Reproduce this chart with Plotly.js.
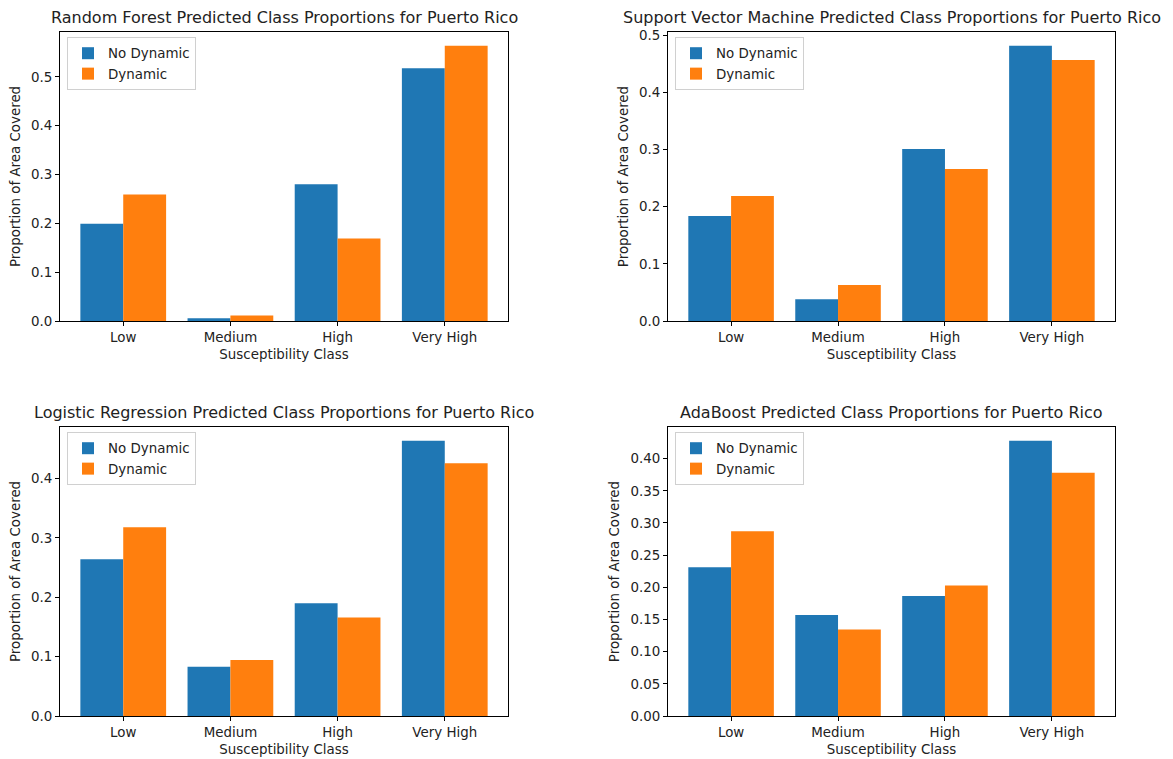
<!DOCTYPE html>
<html>
<head>
<meta charset="utf-8">
<script src="https://cdn.plot.ly/plotly-3.0.1.min.js"></script>
<style>html,body{margin:0;padding:0;background:#fff;} #chart{width:1173px;height:759px;}</style>
</head>
<body>
<div id="chart"></div>
<script>
// ---- data ----
const categories = ['Low', 'Medium', 'High', 'Very High'];
const seriesNames = ['No Dynamic', 'Dynamic'];

const rfNoDynamic  = [0.199, 0.0054, 0.280, 0.5176];
const rfDynamic    = [0.259, 0.0115, 0.169, 0.5638];
const svmNoDynamic = [0.184, 0.038, 0.301, 0.482];
const svmDynamic   = [0.219, 0.063, 0.266, 0.457];
const lrNoDynamic  = [0.2638, 0.0831, 0.190, 0.4635];
const lrDynamic    = [0.318, 0.0943, 0.1657, 0.4255];
const abNoDynamic  = [0.2311, 0.157, 0.1864, 0.4278];
const abDynamic    = [0.2873, 0.1344, 0.2028, 0.3779];

const panelTitles = [
  'Random Forest Predicted Class Proportions for Puerto Rico',
  'Support Vector Machine Predicted Class Proportions for Puerto Rico',
  'Logistic Regression Predicted Class Proportions for Puerto Rico',
  'AdaBoost Predicted Class Proportions for Puerto Rico'
];
const xTitle = 'Susceptibility Class';
const yTitle = 'Proportion of Area Covered';

// ---- styling ----
const W = 1173, H = 759;
const FONT = 'DejaVu Sans, Liberation Sans, sans-serif';
const SMALL = 13.4, BIG = 16;
const TXT = '#222';
const colors = ['#1f77b4', '#ff7f0e'];
const panelData = [
  [rfNoDynamic, rfDynamic],
  [svmNoDynamic, svmDynamic],
  [lrNoDynamic, lrDynamic],
  [abNoDynamic, abDynamic]
];
const tickStep = [0.1, 0.1, 0.1, 0.05];
const tickFmt = ['.1f', '.1f', '.1f', '.2f'];

// panel boxes in pixels: [left, right, top, bottom]
const boxes = [
  [60, 508, 32, 321],
  [668, 1115, 32, 321],
  [60, 508, 427, 716],
  [668, 1115, 427, 716]
];

const traces = [];
const layout = {
  width: W, height: H,
  margin: {l: 0, r: 0, t: 0, b: 0},
  paper_bgcolor: '#fff', plot_bgcolor: '#fff',
  font: {family: FONT, size: SMALL, color: TXT},
  barmode: 'group', bargap: 0.2, bargroupgap: 0,
  annotations: [],
  showlegend: true
};

boxes.forEach((b, i) => {
  const n = i + 1;
  const xa = n === 1 ? 'x' : 'x' + n;
  const ya = n === 1 ? 'y' : 'y' + n;
  const lg = n === 1 ? 'legend' : 'legend' + n;
  const xdom = [b[0] / W, b[1] / W];
  const ydom = [1 - b[3] / H, 1 - b[2] / H];
  const vals = panelData[i];
  const ymax = Math.max(...vals[0], ...vals[1]) * 1.05;

  vals.forEach((v, s) => {
    traces.push({
      type: 'bar', x: categories, y: v, name: seriesNames[s],
      xaxis: xa, yaxis: ya, legend: lg,
      marker: {color: colors[s], line: {width: 0}},
      hoverinfo: 'x+y+name'
    });
  });

  const axCommon = {
    showline: true, linecolor: '#000', linewidth: 1, mirror: true,
    ticks: 'outside', ticklen: 4, tickcolor: '#000', tickwidth: 1,
    showgrid: false, zeroline: false, automargin: false,
    tickfont: {family: FONT, size: SMALL, color: TXT}
  };
  layout['xaxis' + (n === 1 ? '' : n)] = Object.assign({}, axCommon, {
    domain: xdom, anchor: ya, type: 'category',
    range: [-0.59, 3.59], fixedrange: true,
    title: {text: xTitle, font: {family: FONT, size: SMALL, color: TXT}, standoff: 5}
  });
  layout['yaxis' + (n === 1 ? '' : n)] = Object.assign({}, axCommon, {
    domain: ydom, anchor: xa,
    range: [0, ymax], dtick: tickStep[i], tick0: 0, tickformat: tickFmt[i],
    title: {text: yTitle, font: {family: FONT, size: SMALL, color: TXT}, standoff: 7}
  });
  layout[lg] = {
    x: (b[0] + 7) / W, y: 1 - (b[2] + 5) / H, xanchor: 'left', yanchor: 'top',
    xref: 'paper', yref: 'paper',
    bgcolor: 'rgba(255,255,255,0.8)', bordercolor: '#d0d0d0', borderwidth: 1,
    font: {family: FONT, size: SMALL, color: TXT},
    tracegroupgap: 0, itemwidth: 30
  };
  layout.annotations.push({
    text: panelTitles[i], xref: 'paper', yref: 'paper',
    x: (xdom[0] + xdom[1]) / 2, y: ydom[1], xanchor: 'center', yanchor: 'bottom',
    yshift: 3, showarrow: false,
    font: {family: FONT, size: BIG, color: TXT}
  });
});

Plotly.newPlot('chart', traces, layout, {displayModeBar: false});
</script>
</body>
</html>
